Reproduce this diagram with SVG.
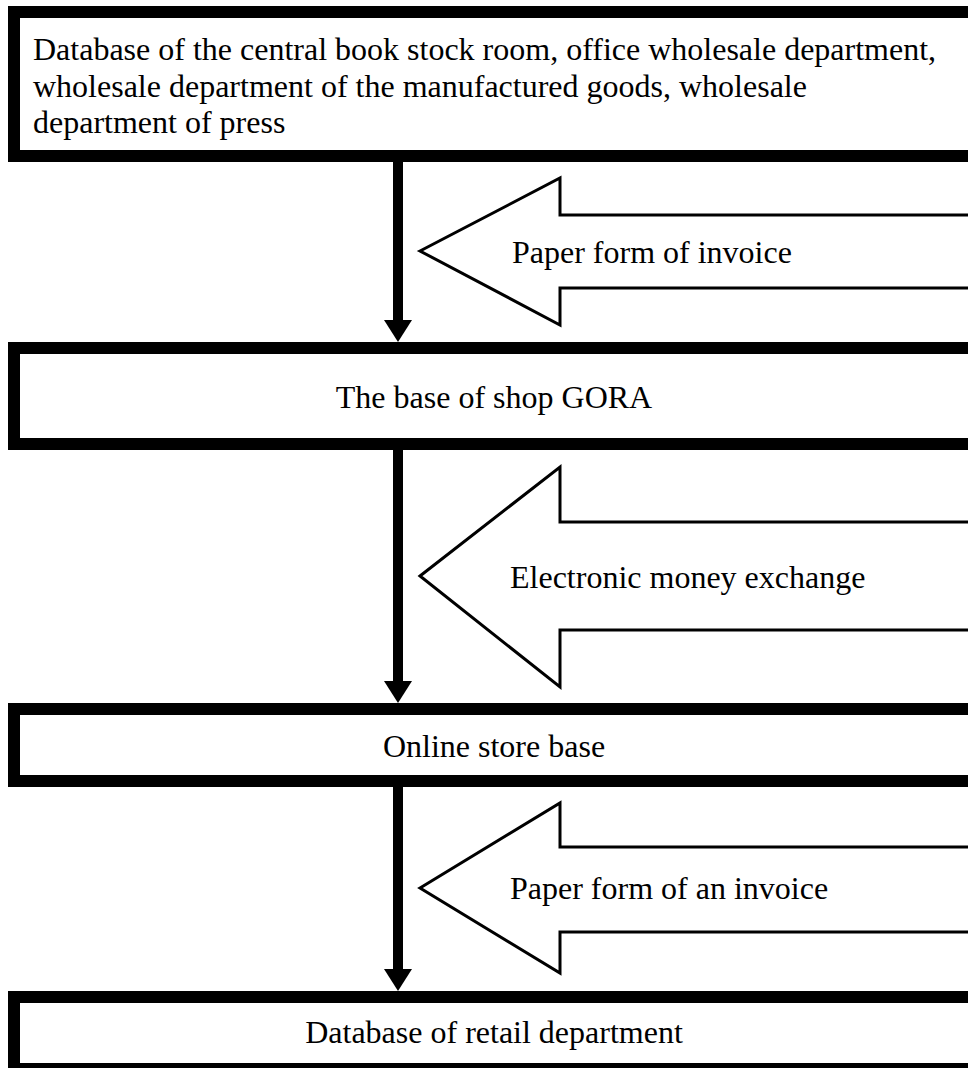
<svg xmlns="http://www.w3.org/2000/svg" width="968" height="1068" viewBox="0 0 968 1068">
  <defs>
    <style>
      .box { fill: #ffffff; stroke: #000000; stroke-width: 12; }
      .flow { fill: #ffffff; stroke: #000000; stroke-width: 3; stroke-linejoin: miter; }
      .link { stroke: #000000; stroke-width: 10; fill: none; marker-end: url(#head); }
      .label { font-family: "Liberation Serif", "Times New Roman", serif; font-size: 32px; fill: #000000; }
      .mid { text-anchor: middle; }
    </style>
    <marker id="head" markerUnits="userSpaceOnUse" markerWidth="24" markerHeight="28" refX="2" refY="14" orient="auto" viewBox="0 0 24 28">
      <path d="M0,0 L22,14 L0,28 Z" fill="#000000"/>
    </marker>
  </defs>

  <rect width="968" height="1068" fill="#ffffff"/>

  <!-- Sources and stores -->
  <g id="node-wholesale">
    <rect class="box" x="14" y="12" width="970" height="144"/>
    <text class="label" x="33" y="60">Database of the central book stock room, office wholesale department,</text>
    <text class="label" x="33" y="97">wholesale department of the manufactured goods, wholesale</text>
    <text class="label" x="33" y="133">department of press</text>
  </g>

  <g id="node-gora">
    <rect class="box" x="14" y="348" width="970" height="96"/>
    <text class="label mid" x="494" y="408">The base of shop GORA</text>
  </g>

  <g id="node-online">
    <rect class="box" x="14" y="709" width="970" height="72"/>
    <text class="label mid" x="494" y="757">Online store base</text>
  </g>

  <g id="node-retail">
    <rect class="box" x="14" y="997" width="970" height="72"/>
    <text class="label mid" x="494" y="1043">Database of retail department</text>
  </g>

  <!-- Document flows -->
  <g id="flow-invoice">
    <polygon class="flow" points="420,251 560,178 560,215 984,215 984,288 560,288 560,325"/>
    <text class="label" x="512" y="263">Paper form of invoice</text>
  </g>

  <g id="flow-money">
    <polygon class="flow" points="420,576 560,467 560,522 984,522 984,630 560,630 560,687"/>
    <text class="label" x="510" y="588">Electronic money exchange</text>
  </g>

  <g id="flow-invoice-retail">
    <polygon class="flow" points="420,888 560,803 560,847 984,847 984,932 560,932 560,973"/>
    <text class="label" x="510" y="899">Paper form of an invoice</text>
  </g>

  <!-- Connectors -->
  <g id="connectors">
    <line class="link" x1="398" y1="162" x2="398" y2="322"/>
    <line class="link" x1="398" y1="450" x2="398" y2="683"/>
    <line class="link" x1="398" y1="787" x2="398" y2="971"/>
  </g>
</svg>
